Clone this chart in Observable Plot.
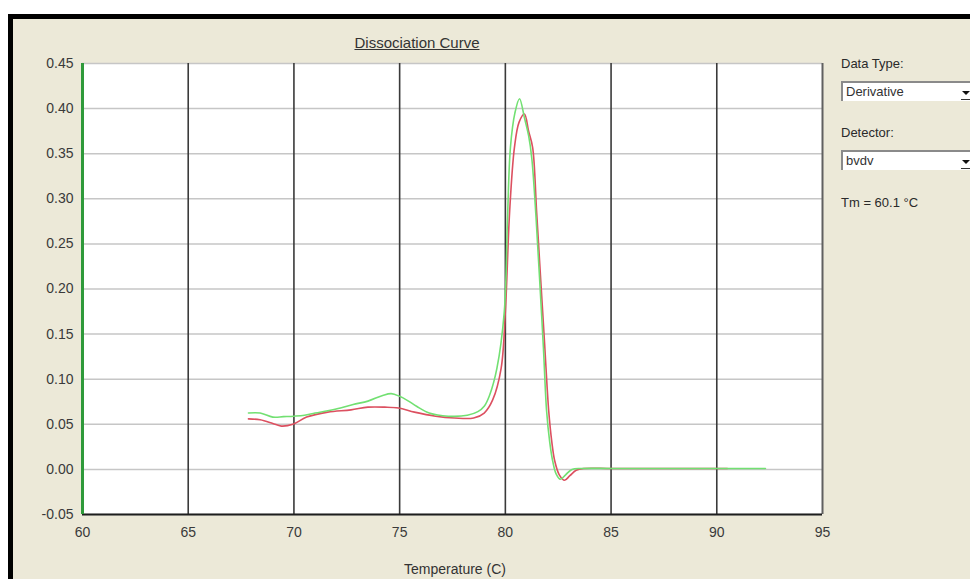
<!DOCTYPE html>
<html>
<head>
<meta charset="utf-8">
<script src="https://cdn.jsdelivr.net/npm/d3@7"></script>
<script src="https://cdn.jsdelivr.net/npm/@observablehq/plot@0.6"></script>
<style>
  html, body { margin: 0; padding: 0; background: #ffffff; width: 970px; height: 579px; overflow: hidden; }
  #win { position: absolute; left: 8px; top: 14px; width: 957px; height: 560px; background: #ECE9D8;
         border-left: 5px solid #000; border-top: 5px solid #000; }
  #chart { position: absolute; left: 0; top: 0; }
  .t { position: absolute; font-family: "Liberation Sans", Arial, sans-serif; color: #2a2a2a; white-space: nowrap; }
  .box { position: absolute; left: 841px; width: 140px; height: 20px; background: #fff;
         border-top: 2px solid #8a8a8a; border-left: 2px solid #8a8a8a; box-sizing: border-box; }
  .box span { position: absolute; left: 3px; top: 0px; font: 13px "Liberation Sans", Arial, sans-serif; color: #333; line-height: 18px; }
  .arr { position: absolute; left: 962px; width: 0; height: 0; border-left: 4px solid transparent; border-right: 4px solid transparent; border-top: 4px solid #111; }
  .arrl { position: absolute; left: 961px; width: 9px; height: 1px; background: #333; }
</style>
</head>
<body>
<div id="win"></div>
<div id="chart"></div>
<div class="t" style="left:0;width:834px;text-align:center;top:34px;font-size:15px;text-decoration:underline;color:#333;">Dissociation Curve</div>
<div class="t" style="left:841px;top:56px;font-size:13px;">Data Type:</div>
<div class="box" style="top:81px;"><span>Derivative</span></div>
<div class="arr" style="top:91px;"></div><div class="arrl" style="top:99px;"></div>
<div class="t" style="left:841px;top:125px;font-size:13px;">Detector:</div>
<div class="box" style="top:150px;"><span>bvdv</span></div>
<div class="arr" style="top:160px;"></div><div class="arrl" style="top:168px;"></div>
<div class="t" style="left:841px;top:195px;font-size:13px;">Tm = 60.1 °C</div>
<div class="t" style="left:0;width:910px;text-align:center;top:561px;font-size:14px;line-height:16px;color:#333;">Temperature (C)</div>
<script>
// Tick values
const xTicks = [60, 65, 70, 75, 80, 85, 90, 95];
const yTicks = [-0.05, 0, 0.05, 0.10, 0.15, 0.20, 0.25, 0.30, 0.35, 0.40, 0.45];

// Green sample (temperature, derivative)
const greenT = [67.85, 68.4, 69.0, 69.5, 70.0, 70.5, 71.0, 71.6, 72.2, 72.8, 73.5, 74.2, 74.6, 75.0, 75.4, 75.8, 76.4, 77.3, 78.2, 78.7, 79.0, 79.25, 79.6, 79.95, 80.1, 80.24, 80.45, 80.67, 80.9, 81.1, 81.25, 81.45, 81.62, 81.8, 81.95, 82.1, 82.25, 82.4, 82.6, 82.85, 83.15, 83.6, 85.0, 87.0, 89.0, 91.0, 92.3];
const greenV = [0.0625, 0.0625, 0.058, 0.0585, 0.059, 0.060, 0.0625, 0.065, 0.068, 0.072, 0.0757, 0.082, 0.084, 0.081, 0.076, 0.070, 0.0625, 0.059, 0.060, 0.064, 0.070, 0.082, 0.112, 0.175, 0.277, 0.357, 0.395, 0.411, 0.390, 0.370, 0.345, 0.280, 0.211, 0.135, 0.065, 0.030, 0.008, -0.005, -0.011, -0.006, 0.000, 0.001, 0.001, 0.001, 0.001, 0.001, 0.001];

// Red sample (temperature, derivative)
const redT = [67.85, 68.4, 69.0, 69.4, 69.95, 70.6, 71.6, 72.7, 73.5, 74.3, 74.95, 75.7, 76.7, 77.6, 78.5, 79.0, 79.4, 79.8, 80.0, 80.2, 80.43, 80.65, 80.9, 81.1, 81.29, 81.48, 81.67, 81.86, 82.05, 82.2, 82.33, 82.55, 82.8, 83.05, 83.35, 83.7, 85.0, 87.0, 89.0, 90.5];
const redV = [0.056, 0.055, 0.051, 0.048, 0.050, 0.058, 0.0635, 0.066, 0.069, 0.069, 0.068, 0.0635, 0.059, 0.057, 0.057, 0.0625, 0.077, 0.112, 0.175, 0.285, 0.357, 0.385, 0.394, 0.375, 0.357, 0.285, 0.211, 0.138, 0.065, 0.030, 0.010, -0.006, -0.012, -0.007, -0.001, 0.001, 0.001, 0.001, 0.001, 0.001];

const green = greenT.map((t, i) => ({t, v: greenV[i]}));
const red = redT.map((t, i) => ({t, v: redV[i]}));

const plot = Plot.plot({
  width: 970,
  height: 579,
  marginLeft: 82,
  marginRight: 148,
  marginTop: 63,
  marginBottom: 65,
  style: {background: "transparent", fontFamily: "'Liberation Sans', Arial, sans-serif", fontSize: "14px", color: "#3a3a3a"},
  x: {domain: [60, 95], ticks: xTicks, tickSize: 0, tickPadding: 13, label: null},
  y: {domain: [-0.05, 0.45], ticks: yTicks, tickSize: 0, tickPadding: 9, tickFormat: d => d.toFixed(2), label: null},
  marks: [
    Plot.frame({fill: "white", stroke: "none"}),
    Plot.ruleY(yTicks, {stroke: "#c6c6c6", strokeWidth: 1.5}),
    Plot.ruleX(xTicks.filter(d => d > 60 && d < 95), {stroke: "#3a3a3a", strokeWidth: 1.6}),
    Plot.ruleX([95], {stroke: "#606060", strokeWidth: 2}),
    Plot.ruleY([-0.05], {stroke: "#1e1e1e", strokeWidth: 2}),
    Plot.ruleX([60], {stroke: "#2f9a3a", strokeWidth: 3}),
    Plot.line(red, {x: "t", y: "v", stroke: "#dc5060", strokeWidth: 1.6, curve: "catmull-rom"}),
    Plot.line(green, {x: "t", y: "v", stroke: "#72e072", strokeWidth: 1.6, curve: "catmull-rom"})
  ]
});
document.getElementById("chart").appendChild(plot);
</script>
</body>
</html>
